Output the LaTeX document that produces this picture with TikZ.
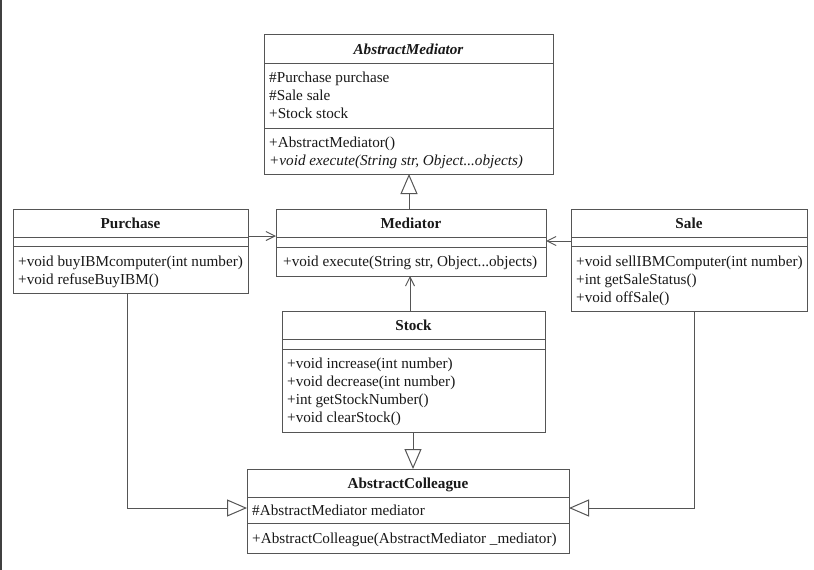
\documentclass[tikz,border=0pt]{standalone}
\usepackage{fontspec}
\setmainfont{Liberation Serif}
\usetikzlibrary{arrows.meta}
\definecolor{ln}{RGB}{85,85,85}
\definecolor{tx}{RGB}{25,25,25}
\tikzset{
  cls/.style={draw=ln, line width=1pt, fill=white, inner sep=0pt, outer sep=0pt, anchor=north west},
  sep/.style={draw=ln, line width=1pt},
  txt/.style={anchor=west, inner sep=0pt, text=tx, font=\fontsize{15.2}{18}\selectfont, text height=11pt, text depth=0pt},
  ttl/.style={anchor=center, inner sep=0pt, text=tx, font=\fontsize{15.2}{18}\selectfont\bfseries, text height=11pt, text depth=0pt},
  gen/.style={draw=ln, line width=1pt, -{Triangle[open, length=20pt, width=17pt, fill=white]}},
  assoc/.style={draw=ln, line width=1pt, -{Straight Barb[length=9pt, width=9pt]}}
}
\begin{document}
\begin{tikzpicture}[x=1pt,y=-1pt]
\useasboundingbox (0,0) rectangle (814,570);
\fill[white] (0,0) rectangle (814,570);
\fill[black!75] (0,0) rectangle (2,570);

% AbstractMediator
\node[cls, minimum width=289pt, minimum height=140pt] (am) at (264,34) {};
\draw[sep] (am.west |- 0,63) -- (am.east |- 0,63);
\draw[sep] (am.west |- 0,128) -- (am.east |- 0,128);
\node[ttl] (amt) at (408.5,48.5) {\itshape AbstractMediator};
\node[txt] (ama1) at (269,77) {\#Purchase purchase};
\node[txt] (ama2) at (269,95) {\#Sale sale};
\node[txt] (ama3) at (269,113) {+Stock stock};
\node[txt] (amm1) at (269,142) {+AbstractMediator()};
\node[txt] (amm2) at (269,160) {\itshape +void execute(String str, Object...objects)};

% Purchase
\node[cls, minimum width=235pt, minimum height=84pt] (pur) at (13,209) {};
\draw[sep] (pur.west |- 0,237) -- (pur.east |- 0,237);
\draw[sep] (pur.west |- 0,246) -- (pur.east |- 0,246);
\node[ttl] (purt) at (130.5,223) {Purchase};
\node[txt] (purm1) at (18,261) {+void buyIBMcomputer(int number)};
\node[txt] (purm2) at (18,279) {+void refuseBuyIBM()};

% Mediator
\node[cls, minimum width=270pt, minimum height=67pt] (med) at (276,209) {};
\draw[sep] (med.west |- 0,237) -- (med.east |- 0,237);
\draw[sep] (med.west |- 0,247) -- (med.east |- 0,247);
\node[ttl] (medt) at (411,223) {Mediator};
\node[txt] (medm1) at (283,261) {+void execute(String str, Object...objects)};

% Sale
\node[cls, minimum width=236pt, minimum height=102pt] (sale) at (571,209) {};
\draw[sep] (sale.west |- 0,237) -- (sale.east |- 0,237);
\draw[sep] (sale.west |- 0,246) -- (sale.east |- 0,246);
\node[ttl] (salet) at (689,223) {Sale};
\node[txt] (salem1) at (576,261) {+void sellIBMComputer(int number)};
\node[txt] (salem2) at (576,279) {+int getSaleStatus()};
\node[txt] (salem3) at (576,297) {+void offSale()};

% Stock
\node[cls, minimum width=263pt, minimum height=121pt] (stock) at (282,311) {};
\draw[sep] (stock.west |- 0,339) -- (stock.east |- 0,339);
\draw[sep] (stock.west |- 0,349) -- (stock.east |- 0,349);
\node[ttl] (stockt) at (413.5,325) {Stock};
\node[txt] (stockm1) at (287,363) {+void increase(int number)};
\node[txt] (stockm2) at (287,381) {+void decrease(int number)};
\node[txt] (stockm3) at (287,399) {+int getStockNumber()};
\node[txt] (stockm4) at (287,417) {+void clearStock()};

% AbstractColleague
\node[cls, minimum width=322pt, minimum height=84pt] (ac) at (247,469) {};
\draw[sep] (ac.west |- 0,497) -- (ac.east |- 0,497);
\draw[sep] (ac.west |- 0,523) -- (ac.east |- 0,523);
\node[ttl] (act) at (408,483) {AbstractColleague};
\node[txt] (aca1) at (252,510) {\#AbstractMediator mediator};
\node[txt] (acm1) at (252,538) {+AbstractColleague(AbstractMediator \_mediator)};

% connectors
\draw[gen] (med.north -| 409,0) -- (am.south -| 409,0);
\draw[assoc] (pur.east |- 0,236) -- (med.west |- 0,236);
\draw[assoc] (sale.west |- 0,241) -- (med.east |- 0,241);
\draw[assoc] (stock.north -| 410,0) -- (med.south -| 410,0);
\draw[gen] (stock.south -| 413,0) -- (ac.north -| 413,0);
\draw[gen] (pur.south -| 127,0) |- (ac.west |- 0,508);
\draw[gen] (sale.south -| 694,0) |- (ac.east |- 0,508);
\end{tikzpicture}
\end{document}
